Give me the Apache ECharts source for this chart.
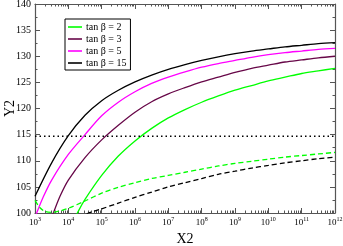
<!DOCTYPE html>
<html><head><meta charset="utf-8">
<script src="https://cdn.jsdelivr.net/npm/echarts@6/dist/echarts.min.js"></script>
<style>html,body{margin:0;padding:0;background:#fff}#c{width:343px;height:246px}</style>
</head><body><div id="c"></div>
<script>
// x values are log10(X2)
const xTickExps = [3,4,5,6,7,8,9,10,11,12];
const yTicks = [100,105,110,115,120,125,130,135,140];

const tb15X = [3,3.5,4,4.5,5,5.5,6,6.5,7,7.5,8,8.5,9,9.5,10,10.5,11,11.5,12];
const tb15Y = [103.2,109.6,114.8,118.7,121.5,123.5,125.1,126.4,127.5,128.4,129.2,129.9,130.5,131.0,131.4,131.8,132.1,132.4,132.6];

const tb5X = [3.0,3.05,3.25,3.5,4,4.5,5,5.5,6,6.5,7,7.5,8,8.5,9,9.5,10,10.5,11,11.5,12];
const tb5Y = [99.2,100,103.1,106.3,111.2,115.0,118.6,121.2,123.2,124.8,126.0,127.0,127.9,128.6,129.2,129.8,130.3,130.7,131.0,131.3,131.5];

const tb3X = [3.5,3.55,3.75,4,4.5,5,5.5,6,6.5,7,7.5,8,8.5,9,9.5,10,10.5,11,11.5,12];
const tb3Y = [99.2,100,103.2,106.3,110.6,114.0,116.8,119.3,121.3,122.8,124.0,125.1,126.0,126.9,127.7,128.3,128.9,129.3,129.7,130.0];

const tb2X = [4.22,4.27,4.5,5,5.5,6,6.5,7,7.5,8,8.5,9,9.5,10,10.5,11,11.5,12];
const tb2Y = [99.4,100,102.6,107.2,110.9,113.8,116.2,118.2,119.8,121.2,122.4,123.5,124.4,125.3,126.0,126.7,127.2,127.7];

const dashGreenX = [3,3.15,3.3,3.5,3.75,4,4.5,5,5.5,6,6.5,7,7.5,8,8.5,9,9.5,10,10.5,11,11.5,12];
const dashGreenY = [102.4,101.0,100.3,100.1,100.4,100.9,102.3,103.8,104.9,105.8,106.6,107.2,107.8,108.4,109.0,109.5,109.9,110.3,110.7,111.0,111.3,111.6];

const dashBlackX = [4.55,4.6,5,5.5,6,6.5,7,7.5,8,8.5,9,9.5,10,10.5,11,11.5,12];
const dashBlackY = [99.8,100,100.8,101.9,103.0,104.0,105.0,105.8,106.6,107.4,108.0,108.6,109.1,109.6,110.0,110.4,110.7];

const refX = [3,12];
const refY = [114.7,114.7];

const names = ['tan β = 2','tan β = 3','tan β = 5','tan β = 15'];

const zip = (xs, ys) => xs.map((x,i)=>[x,ys[i]]);
const minorX = [];
for (let e=3;e<12;e++) for (let k=2;k<=9;k++) minorX.push(e+Math.log10(k));

const serif = '"Liberation Serif","DejaVu Serif",serif';
const baseX = {type:'value', min:3, max:12, interval:1, gridIndex:0,
  axisLine:{show:true, onZero:false, lineStyle:{color:'#555', width:1.2}},
  splitLine:{show:false}};
const chart = echarts.init(document.getElementById('c'), null, {renderer:'canvas'});
chart.setOption({
  animation:false,
  backgroundColor:'#fff',
  grid:{left:35, right:8, top:4, bottom:33, containLabel:false, outerBoundsMode:'none'},
  legend:{
    data:names.map(n=>({name:n, icon:'rect'})),
    orient:'vertical', left:65, top:19,
    itemWidth:14, itemHeight:1.6, itemGap:0,
    padding:[2,4,1,3],
    borderColor:'#000', borderWidth:1, backgroundColor:'#fff',
    textStyle:{fontFamily:serif, fontSize:10, color:'#000', lineHeight:12, padding:[0,0,0,-1]}
  },
  xAxis:[
    Object.assign({}, baseX, {position:'bottom',
      name:'X2', nameLocation:'middle', nameGap:6,
      nameTextStyle:{fontFamily:serif, fontSize:14, color:'#000'},
      axisTick:{show:true, inside:true, length:5, lineStyle:{color:'#555'}},
      axisLabel:{show:true, margin:3, formatter:v=>'{b|10}{s|'+v+'}',
        rich:{b:{fontFamily:serif, fontSize:9, color:'#000'},
              s:{fontFamily:serif, fontSize:6, color:'#000', padding:[0,0,7,0]}}}}),
    Object.assign({}, baseX, {position:'bottom', axisLine:{show:false},
      axisTick:{show:true, inside:true, length:2.5, customValues:minorX, lineStyle:{color:'#555'}},
      axisLabel:{show:false}}),
    Object.assign({}, baseX, {position:'top',
      axisTick:{show:true, inside:true, length:5, lineStyle:{color:'#555'}},
      axisLabel:{show:false}}),
    Object.assign({}, baseX, {position:'top', axisLine:{show:false},
      axisTick:{show:true, inside:true, length:2.5, customValues:minorX, lineStyle:{color:'#555'}},
      axisLabel:{show:false}})
  ],
  yAxis:[
    {type:'value', min:yTicks[0], max:yTicks[yTicks.length-1], interval:5, position:'left',
      name:'Y2', nameLocation:'middle', nameGap:18, nameRotate:90, nameMoveOverlap:false,
      nameTextStyle:{fontFamily:serif, fontSize:14, color:'#000'},
      axisLine:{show:true, onZero:false, lineStyle:{color:'#555', width:1.2}},
      axisTick:{show:true, inside:true, length:5, lineStyle:{color:'#555'}},
      minorTick:{show:true, splitNumber:2, length:2.5, lineStyle:{color:'#555'}},
      axisLabel:{fontFamily:serif, fontSize:10, color:'#000', margin:4},
      splitLine:{show:false}},
    {type:'value', min:yTicks[0], max:yTicks[yTicks.length-1], interval:5, position:'right',
      axisLine:{show:true, onZero:false, lineStyle:{color:'#555', width:1.2}},
      axisTick:{show:true, inside:true, length:5, lineStyle:{color:'#555'}},
      minorTick:{show:true, splitNumber:2, length:2.5, lineStyle:{color:'#555'}},
      axisLabel:{show:false}, splitLine:{show:false}}
  ],
  series:[
    {name:names[0], type:'line', data:zip(tb2X,tb2Y), smooth:0.3, showSymbol:false, color:'#00ff00', lineStyle:{width:1.3}},
    {name:names[1], type:'line', data:zip(tb3X,tb3Y), smooth:0.3, showSymbol:false, color:'#670748', lineStyle:{width:1.3}},
    {name:names[2], type:'line', data:zip(tb5X,tb5Y), smooth:0.3, showSymbol:false, color:'#ff00ff', lineStyle:{width:1.3}},
    {name:names[3], type:'line', data:zip(tb15X,tb15Y), smooth:0.3, showSymbol:false, color:'#000000', lineStyle:{width:1.3}},
    {name:'dg', type:'line', data:zip(dashGreenX,dashGreenY), smooth:0.3, showSymbol:false, color:'#00ff00', lineStyle:{width:1.3, type:[5,3]}},
    {name:'dk', type:'line', data:zip(dashBlackX,dashBlackY), smooth:0.3, showSymbol:false, color:'#000000', lineStyle:{width:1.3, type:[5,3]}},
    {name:'ref', type:'line', data:zip(refX,refY), showSymbol:false, color:'#000000', lineStyle:{width:1.5, type:[1.5,3]}}
  ]
});
</script></body></html>
